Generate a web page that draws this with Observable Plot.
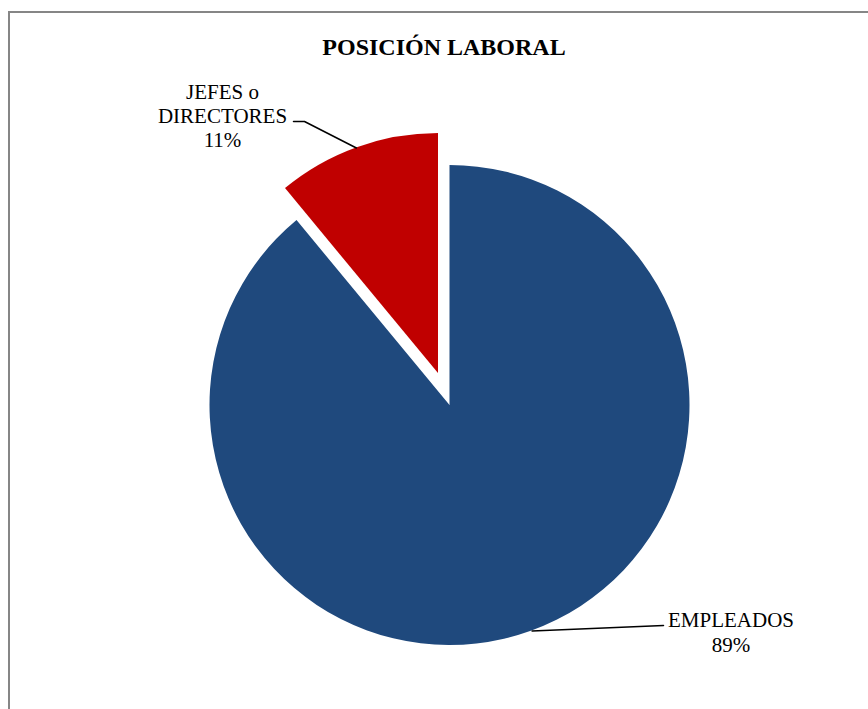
<!DOCTYPE html>
<html>
<head>
<meta charset="utf-8">
<script src="https://cdn.jsdelivr.net/npm/d3@7"></script>
<script src="https://cdn.jsdelivr.net/npm/@observablehq/plot@0.6"></script>
<style>
  html, body { margin: 0; padding: 0; background: #ffffff; }
  #chart svg { display: block; }
</style>
</head>
<body>
<div id="chart"></div>
<script>
// ---- data ----
const title = "POSICIÓN LABORAL";
const categories = ["EMPLEADOS", "JEFES o DIRECTORES"];
const shares = [89, 11];
const labelNames = [["EMPLEADOS"], ["JEFES o", "DIRECTORES"]];
const colors = ["#1F497D", "#C00000"];

// ---- layout (pixel space) ----
const W = 868, H = 709;
const pieCenter = [449.5, 405];
const pieRadius = 240;
const explode = [0, 34];
const leaderAngleDeg = [160, 340];
const labelPos = [[730.5, 651.5], [222, 146]];
const labelLineHeight = [1.2, 1.14];
const leaderTail = [[[663, 625]], [[304, 121], [293, 121]]];
const titlePos = [443.5, 54];

// ---- derived ----
const arcs = d3.pie().sort(null).value(d => d.share)
  .startAngle(0).endAngle(2 * Math.PI)(
    categories.map((c, i) => ({category: c, share: shares[i], i}))
  );
const sliceCenter = arcs.map((a, i) => {
  const mid = (a.startAngle + a.endAngle) / 2;
  return [pieCenter[0] + explode[i] * Math.sin(mid), pieCenter[1] - explode[i] * Math.cos(mid)];
});
const labels = arcs.map((a, i) => ({
  x: labelPos[i][0], y: labelPos[i][1],
  text: [...labelNames[i], `${shares[i]}%`].join("\n"),
  lh: labelLineHeight[i]
}));
const leaders = [];
arcs.forEach((a, i) => {
  const ang = leaderAngleDeg[i] * Math.PI / 180;
  const c = sliceCenter[i];
  const pts = [[c[0] + pieRadius * Math.sin(ang), c[1] - pieRadius * Math.cos(ang)], ...leaderTail[i]];
  pts.forEach(p => leaders.push({x: p[0], y: p[1], k: i}));
});

const arcGen = d3.arc().innerRadius(0).outerRadius(pieRadius);

function frameMark(index, scales) {
  const r = d3.create("svg:rect")
    .attr("x", scales.x(9)).attr("y", scales.y(12))
    .attr("width", 1000).attr("height", 1000)
    .attr("fill", "none").attr("stroke", "#868686").attr("stroke-width", 2);
  return r.node();
}
function pieMark(index, scales) {
  const g = d3.create("svg:g");
  arcs.forEach((a, i) => {
    const c = sliceCenter[i];
    g.append("path")
      .attr("d", arcGen(a))
      .attr("transform", `translate(${scales.x(c[0])},${scales.y(c[1])})`)
      .attr("fill", colors[i]);
  });
  return g.node();
}

const chart = Plot.plot({
  width: W, height: H, margin: 0,
  x: {domain: [0, W], range: [0, W], axis: null},
  y: {domain: [0, H], range: [0, H], axis: null},
  style: {fontFamily: "'Liberation Serif', 'Times New Roman', serif", background: "#ffffff"},
  marks: [
    frameMark,
    pieMark,
    Plot.line(leaders, {x: "x", y: "y", z: "k", stroke: "#000", strokeWidth: 1.5}),
    Plot.text(labels.slice(0, 1), {x: "x", y: "y", text: "text", lineAnchor: "bottom", lineHeight: labels[0].lh, fontSize: 21, fill: "#000", textAnchor: "middle"}),
    Plot.text(labels.slice(1), {x: "x", y: "y", text: "text", lineAnchor: "bottom", lineHeight: labels[1].lh, fontSize: 21, fill: "#000", textAnchor: "middle"}),
    Plot.text([title], {x: () => titlePos[0], y: () => titlePos[1], text: d => d, lineAnchor: "bottom", fontSize: 24, fontWeight: "bold", fill: "#000", textAnchor: "middle"})
  ]
});
document.getElementById("chart").appendChild(chart);
</script>
</body>
</html>
